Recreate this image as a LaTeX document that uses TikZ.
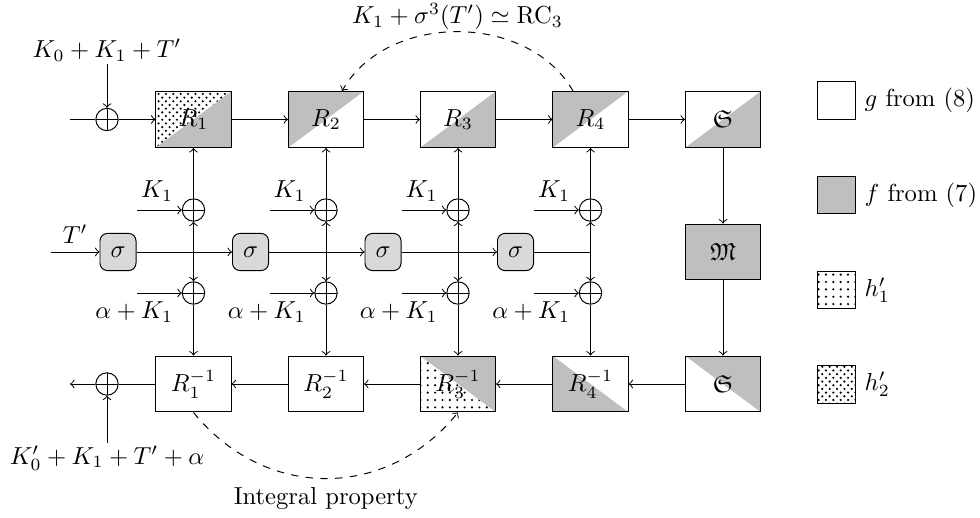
\documentclass[tikz,border=0pt]{standalone}
\usepackage{amssymb}
\usetikzlibrary{patterns,calc}
\begin{document}
\begin{tikzpicture}[x=0.0143cm,y=-0.0143cm,>=to,
  box/.style={draw, rectangle, minimum width=1.073cm, minimum height=0.80cm, inner sep=0pt},
  sig/.style={draw, rounded corners=3pt, fill=gray!30, minimum width=0.515cm, minimum height=0.53cm, inner sep=0pt},
  xr/.style={draw, circle, minimum size=0.32cm, inner sep=0pt,
    path picture={\draw (path picture bounding box.north) -- (path picture bounding box.south)
      (path picture bounding box.west) -- (path picture bounding box.east);}},
  fillTL/.style={path picture={\fill[#1] (path picture bounding box.north west) -- (path picture bounding box.north east) -- (path picture bounding box.south west) -- cycle;}},
  fillBR/.style={path picture={\fill[#1] (path picture bounding box.north east) -- (path picture bounding box.south east) -- (path picture bounding box.south west) -- cycle;}},
  fillTR/.style={path picture={\fill[#1] (path picture bounding box.north west) -- (path picture bounding box.north east) -- (path picture bounding box.south east) -- cycle;}},
  fillBL/.style={path picture={\fill[#1] (path picture bounding box.north west) -- (path picture bounding box.south east) -- (path picture bounding box.south west) -- cycle;}},
  fillRone/.style={path picture={
    \fill[pattern=crosshatch dots] (path picture bounding box.north west) -- (path picture bounding box.north east) -- (path picture bounding box.south west) -- cycle;
    \fill[gray!50] (path picture bounding box.north east) -- (path picture bounding box.south east) -- (path picture bounding box.south west) -- cycle;}},
  fillRthree/.style={path picture={
    \fill[pattern=dots] (path picture bounding box.north west) -- (path picture bounding box.south east) -- (path picture bounding box.south west) -- cycle;
    \fill[gray!50] (path picture bounding box.north west) -- (path picture bounding box.north east) -- (path picture bounding box.south east) -- cycle;}},
  leg/.style={draw, minimum width=0.544cm, minimum height=0.53cm, inner sep=0pt},
  lab/.style={inner sep=1pt}
]
\useasboundingbox (0,0) rectangle (980,518);

% top row
\node[box, fillRone] (R1) at (193.5,119.5) {$R_1$};
\node[box, fillTL=gray!50] (R2) at (326,119.5) {$R_2$};
\node[box, fillBR=gray!50] (R3) at (458,119.5) {$R_3$};
\node[box, fillTL=gray!50] (R4) at (590.5,119.5) {$R_4$};
\node[box, fillBR=gray!50] (S1) at (723,119.5) {$\mathfrak{S}$};
\node[box, fill=gray!50] (M) at (723,252) {$\mathfrak{M}$};
% bottom row
\node[box, fillTR=gray!50] (S2) at (723,384) {$\mathfrak{S}$};
\node[box, fillBL=gray!50] (Q4) at (590.5,384) {$R_4^{-1}$};
\node[box, fillRthree] (Q3) at (458,384) {$R_3^{-1}$};
\node[box] (Q2) at (326,384) {$R_2^{-1}$};
\node[box] (Q1) at (193.5,384) {$R_1^{-1}$};

% xors
\node[xr] (c0) at (107,119.5) {};
\node[xr] (c5) at (107,384) {};
\node[xr] (u1) at (193.5,210) {};
\node[xr] (u2) at (326,210) {};
\node[xr] (u3) at (458,210) {};
\node[xr] (u4) at (590.5,210) {};
\node[xr] (l1) at (193.5,293) {};
\node[xr] (l2) at (326,293) {};
\node[xr] (l3) at (458,293) {};
\node[xr] (l4) at (590.5,293) {};

% sigma boxes
\node[sig] (s1) at (118,252) {$\sigma$};
\node[sig] (s2) at (250.5,252) {$\sigma$};
\node[sig] (s3) at (383,252) {$\sigma$};
\node[sig] (s4) at (515.5,252) {$\sigma$};

\coordinate (j1) at (193.5,252);
\coordinate (j2) at (326,252);
\coordinate (j3) at (458,252);
\coordinate (j4) at (590.5,252);

% top input
\coordinate (tin) at (70,119.5);
\node[lab] (lk0) at (107,50) {$K_0+K_1+T'$};
\draw (tin) -- (c0);
\draw[->] (lk0) -- (c0);
\draw[->] (c0) -- (R1);
\draw[->] (R1) -- (R2);
\draw[->] (R2) -- (R3);
\draw[->] (R3) -- (R4);
\draw[->] (R4) -- (S1);
\draw[->] (S1) -- (M);
\draw[->] (M) -- (S2);
\draw[->] (S2) -- (Q4);
\draw[->] (Q4) -- (Q3);
\draw[->] (Q3) -- (Q2);
\draw[->] (Q2) -- (Q1);
\draw (Q1) -- (c5);
\coordinate (tout) at (70,384);
\draw[->] (c5) -- (tout);
\node[lab] (lk5) at (107,458) {$K_0'+K_1+T'+\alpha$};
\draw[->] (lk5) -- (c5);

% sigma line
\coordinate (tp) at (51,252);
\draw[->] (tp) -- node[above] (lt) {$T'$} (s1);
\draw[->] (s1) -- (s2);
\draw[->] (s2) -- (s3);
\draw[->] (s3) -- (s4);
\draw (s4) -- (j4);

% columns
\foreach \i/\x in {1/193.5,2/326,3/458,4/590.5}{
  \coordinate (ka\i) at (\x-56.5,210);
  \coordinate (kb\i) at (\x-56.5,293);
  \draw[->] (ka\i) -- (u\i);
  \draw[->] (kb\i) -- (l\i);
  \node[above left] (lka\i) at (u\i.west) {$K_1$};
  \node[below left] (lkb\i) at (l\i.west) {$\alpha+K_1$};
  \draw[->] (j\i) -- (u\i);
  \draw[->] (j\i) -- (l\i);
}
\draw[->] (u1) -- (R1);
\draw[->] (u2) -- (R2);
\draw[->] (u3) -- (R3);
\draw[->] (u4) -- (R4);
\draw[->] (l1) -- (Q1);
\draw[->] (l2) -- (Q2);
\draw[->] (l3) -- (Q3);
\draw[->] (l4) -- (Q4);

% dashed arcs
\draw[dashed,->] ($(R4.north)+(-17.5,0)$) .. controls +(-45,-79) and +(45,-79) ..
  node[above, inner sep=0.5pt] (ltop) {$K_1+\sigma^3(T')\simeq\mathrm{RC}_3$} ($(R2.north)+(16,0)$);
\draw[dashed,->] (Q1.south) .. controls +(71.5,88) and +(-71.5,88) ..
  node[below] (lint) {Integral property} (Q3.south);

% legend
\node[leg, label=right:{$g$ from (8)}] (lg1) at (836.5,100.5) {};
\node[leg, fill=gray!50, label=right:{$f$ from (7)}] (lg2) at (836.5,195) {};
\node[leg, pattern=dots, label=right:{$h_1'$}] (lg3) at (836.5,290) {};
\node[leg, pattern=crosshatch dots, label=right:{$h_2'$}] (lg4) at (836.5,384.5) {};
\end{tikzpicture}
\end{document}
